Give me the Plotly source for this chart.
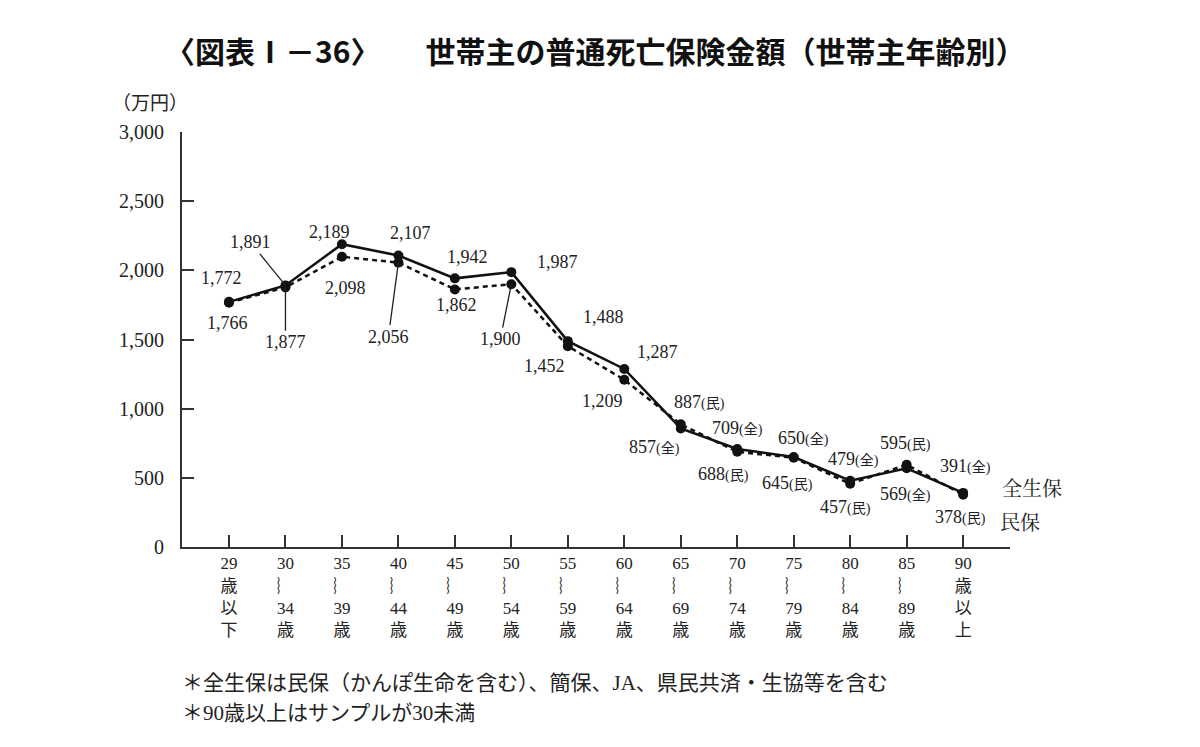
import plotly.graph_objects as go

categories = ["29<br>歳<br>以<br>下", "30<br>︴<br>34<br>歳", "35<br>︴<br>39<br>歳", "40<br>︴<br>44<br>歳",
              "45<br>︴<br>49<br>歳", "50<br>︴<br>54<br>歳", "55<br>︴<br>59<br>歳", "60<br>︴<br>64<br>歳",
              "65<br>︴<br>69<br>歳", "70<br>︴<br>74<br>歳", "75<br>︴<br>79<br>歳", "80<br>︴<br>84<br>歳",
              "85<br>︴<br>89<br>歳", "90<br>歳<br>以<br>上"]
zen_seiho = [1772, 1891, 2189, 2107, 1942, 1987, 1488, 1287, 857, 709, 650, 479, 569, 391]
min_po = [1766, 1877, 2098, 2056, 1862, 1900, 1452, 1209, 887, 688, 645, 457, 595, 378]
y_ticks = [0, 500, 1000, 1500, 2000, 2500, 3000]
y_ticktext = ["0", "500", "1,000", "1,500", "2,000", "2,500", "3,000"]

# label offsets (pixels) : (dx, dy_up, arrow)
zen_off = [(-7, 24, False), (-35, -43, True), (-12, 12, False), (12, 23, False), (13, 21, False),
           (46, 10, False), (36, 24, False), (33, 17, False), (-26, -19, False), (0, 21, False),
           (10, 19, False), (3, 22, False), (-1, -26, False), (2, 27, False)]
min_off = [(-1, -20, False), (0, 55, True), (4, -31, False), (-10, 74, True), (2, -16, False),
           (-11, 55, True), (-23, -20, False), (-22, -21, False), (19, 22, False), (-14, -22, False),
           (-6, -25, False), (-5, -23, False), (-1, 22, False), (-3, -22, False)]
zen_tag = [""] * 8 + ["全"] * 6
min_tag = [""] * 8 + ["民"] * 6

NUMFONT = "Liberation Serif, Noto Sans CJK JP, serif"
TXT = "#222222"

ML, MR, MT, MB = 182, 190, 132, 200
W, H = 1200, 747
PW, PH = W - ML - MR, H - MT - MB


def px(xp):
    return (xp - ML) / PW


def py(yp):
    return (H - MB - yp) / PH


x = list(range(len(categories)))

fig = go.Figure()
fig.add_trace(go.Scatter(x=x, y=min_po, mode="lines+markers", name="民保",
                         line=dict(color="#111111", width=2.5, dash="5px,4px"),
                         marker=dict(size=10, color="#111111")))
fig.add_trace(go.Scatter(x=x, y=zen_seiho, mode="lines+markers", name="全生保",
                         line=dict(color="#111111", width=2.5),
                         marker=dict(size=10, color="#111111")))


def fmt(v, tag):
    s = f"{v:,}"
    if tag:
        s += f"<span style='font-size:14px'>({tag})</span>"
    return s


annotations = []
for series, offs, tags in ((zen_seiho, zen_off, zen_tag), (min_po, min_off, min_tag)):
    for i, v in enumerate(series):
        dx, dy, arrow = offs[i]
        if arrow:
            annotations.append(dict(x=i, y=v, xref="x", yref="y", text=fmt(v, tags[i]),
                                    showarrow=True, arrowhead=0, arrowwidth=1.3, arrowcolor="#222",
                                    ax=dx, ay=dy, standoff=0,
                                    font=dict(family=NUMFONT, size=18, color=TXT)))
        else:
            annotations.append(dict(x=i, y=v, xref="x", yref="y", text=fmt(v, tags[i]),
                                    showarrow=False, xshift=dx, yshift=dy,
                                    font=dict(family=NUMFONT, size=18, color=TXT)))

# series names at line ends
annotations.append(dict(x=px(1032), y=py(487), xref="paper", yref="paper", yanchor="middle",
                        xanchor="center", text="全生保", showarrow=False,
                        font=dict(family="Noto Serif CJK JP, Noto Sans CJK JP", size=20, color=TXT)))
annotations.append(dict(x=px(1020), y=py(521), xref="paper", yref="paper", yanchor="middle",
                        xanchor="center", text="民保", showarrow=False,
                        font=dict(family="Noto Serif CJK JP, Noto Sans CJK JP", size=20, color=TXT)))
# y unit
annotations.append(dict(x=px(150), y=py(103), xref="paper", yref="paper", yanchor="middle",
                        xanchor="center", text="（万円）", showarrow=False,
                        font=dict(family=NUMFONT, size=19, color=TXT)))
# title
annotations.append(dict(x=px(163), y=py(50), xref="paper", yref="paper", yanchor="middle",
                        xanchor="left", text="〈図表Ⅰ－36〉　　世帯主の普通死亡保険金額（世帯主年齢別）",
                        showarrow=False,
                        font=dict(family="Noto Sans CJK JP", size=30, color="#111", weight="bold")))
# footnotes
annotations.append(dict(x=px(180), y=py(683), xref="paper", yref="paper", yanchor="middle",
                        xanchor="left", text="＊全生保は民保（かんぽ生命を含む）、簡保、JA、県民共済・生協等を含む",
                        showarrow=False, font=dict(family=NUMFONT, size=21, color=TXT)))
annotations.append(dict(x=px(180), y=py(713), xref="paper", yref="paper", yanchor="middle",
                        xanchor="left", text="＊90歳以上はサンプルが30未満",
                        showarrow=False, font=dict(family=NUMFONT, size=21, color=TXT)))

fig.update_layout(
    width=W, height=H,
    margin=dict(l=ML, r=MR, t=MT, b=MB),
    paper_bgcolor="white", plot_bgcolor="white",
    showlegend=False,
    annotations=annotations,
    xaxis=dict(range=[-0.832, 13.83], tickvals=x, ticktext=categories, showgrid=False, zeroline=False,
               showline=True, linecolor="#333", linewidth=2, ticks="inside", ticklen=12,
               tickwidth=1.5, tickcolor="#333",
               tickfont=dict(family=NUMFONT, size=17, color=TXT)),
    yaxis=dict(range=[0, 3000], tickvals=y_ticks, ticktext=y_ticktext, showgrid=False, zeroline=False,
               showline=True, linecolor="#333", linewidth=2, ticks="inside", ticklen=12,
               tickwidth=1.5, tickcolor="#333", ticklabelstandoff=12,
               tickfont=dict(family=NUMFONT, size=20, color=TXT)),
)

fig.write_html("out.html")
